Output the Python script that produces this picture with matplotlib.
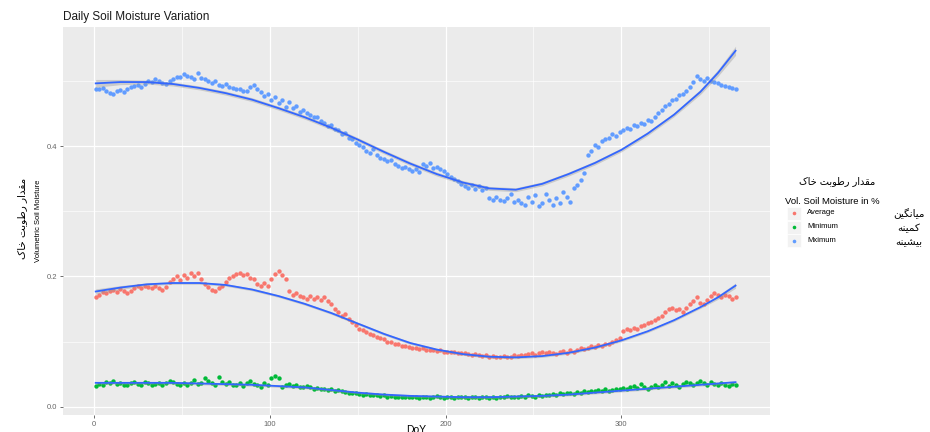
import numpy as np
import matplotlib.pyplot as plt
from matplotlib.patches import Rectangle
from matplotlib.lines import Line2D

plt.rcParams['font.family'] = ['Liberation Sans', 'DejaVu Sans']

# daily points (every second day)
days = np.arange(1, 366, 2)

max_vals = [
    0.488, 0.487, 0.489, 0.484, 0.482, 0.480, 0.484, 0.486, 0.483, 0.487,
    0.490, 0.492, 0.494, 0.491, 0.495, 0.500, 0.498, 0.502, 0.499, 0.496,
    0.495, 0.500, 0.503, 0.506, 0.505, 0.510, 0.508, 0.506, 0.503, 0.512,
    0.504, 0.502, 0.500, 0.497, 0.499, 0.494, 0.492, 0.495, 0.491, 0.489,
    0.488, 0.487, 0.485, 0.484, 0.490, 0.493, 0.488, 0.483, 0.476, 0.479,
    0.470, 0.475, 0.466, 0.471, 0.460, 0.468, 0.458, 0.462, 0.452, 0.455,
    0.450, 0.448, 0.444, 0.445, 0.438, 0.436, 0.430, 0.432, 0.426, 0.424,
    0.418, 0.420, 0.413, 0.410, 0.405, 0.401, 0.398, 0.393, 0.390, 0.395,
    0.386, 0.382, 0.380, 0.377, 0.378, 0.372, 0.370, 0.366, 0.368, 0.364,
    0.362, 0.365, 0.360, 0.372, 0.370, 0.374, 0.366, 0.368, 0.364, 0.361,
    0.357, 0.352, 0.350, 0.346, 0.342, 0.338, 0.336, 0.340, 0.334, 0.338,
    0.332, 0.336, 0.320, 0.318, 0.322, 0.317, 0.316, 0.320, 0.326, 0.314,
    0.318, 0.312, 0.310, 0.322, 0.314, 0.325, 0.308, 0.313, 0.327, 0.318,
    0.310, 0.320, 0.312, 0.330, 0.322, 0.314, 0.335, 0.340, 0.348, 0.358,
    0.386, 0.392, 0.402, 0.398, 0.408, 0.410, 0.412, 0.418, 0.415, 0.422,
    0.424, 0.428, 0.426, 0.432, 0.430, 0.436, 0.433, 0.440, 0.438, 0.445,
    0.450, 0.455, 0.462, 0.465, 0.470, 0.472, 0.478, 0.480, 0.484, 0.490,
    0.498, 0.508, 0.502, 0.500, 0.504, 0.500, 0.498, 0.496, 0.494, 0.492,
    0.490, 0.489, 0.488,
]

avg_vals = [
    0.168, 0.172, 0.176, 0.174, 0.178, 0.180, 0.176, 0.181, 0.178, 0.175,
    0.178, 0.182, 0.185, 0.183, 0.186, 0.184, 0.182, 0.186, 0.183, 0.180,
    0.184, 0.192, 0.196, 0.200, 0.195, 0.203, 0.198, 0.206, 0.200, 0.205,
    0.196, 0.188, 0.184, 0.180, 0.178, 0.182, 0.186, 0.192, 0.198, 0.200,
    0.204, 0.206, 0.202, 0.204, 0.198, 0.196, 0.188, 0.185, 0.190, 0.186,
    0.196, 0.204, 0.208, 0.202, 0.196, 0.178, 0.172, 0.175, 0.170, 0.168,
    0.165, 0.170, 0.166, 0.168, 0.164, 0.168, 0.162, 0.158, 0.150, 0.145,
    0.140, 0.142, 0.135, 0.130, 0.126, 0.120, 0.118, 0.115, 0.112, 0.110,
    0.108, 0.106, 0.104, 0.100, 0.099, 0.097, 0.096, 0.094, 0.093, 0.092,
    0.091, 0.090, 0.089, 0.090, 0.088, 0.087, 0.088, 0.086, 0.087, 0.085,
    0.085, 0.084, 0.085, 0.083, 0.082, 0.083, 0.081, 0.080, 0.081, 0.079,
    0.078, 0.079, 0.077, 0.078, 0.076, 0.077, 0.078, 0.076, 0.077, 0.079,
    0.078, 0.080, 0.079, 0.081, 0.083, 0.080, 0.082, 0.084, 0.082, 0.085,
    0.083, 0.081, 0.084, 0.086, 0.083, 0.087, 0.085, 0.088, 0.090, 0.089,
    0.091, 0.093, 0.092, 0.095, 0.094, 0.097, 0.096, 0.100, 0.102, 0.106,
    0.116, 0.120, 0.118, 0.121, 0.119, 0.124, 0.126, 0.129, 0.131, 0.134,
    0.137, 0.140, 0.146, 0.150, 0.152, 0.148, 0.150, 0.146, 0.152, 0.158,
    0.162, 0.168, 0.160, 0.158, 0.164, 0.170, 0.174, 0.172, 0.168, 0.172,
    0.170, 0.166, 0.168,
]

min_vals = [
    0.032, 0.035, 0.034, 0.038, 0.036, 0.040, 0.035, 0.037, 0.034, 0.033,
    0.036, 0.039, 0.035, 0.034, 0.038, 0.036, 0.033, 0.035, 0.037, 0.034,
    0.036, 0.040, 0.038, 0.035, 0.034, 0.037, 0.033, 0.036, 0.042, 0.035,
    0.037, 0.044, 0.040, 0.036, 0.034, 0.046, 0.038, 0.035, 0.039, 0.033,
    0.034, 0.036, 0.032, 0.037, 0.040, 0.035, 0.033, 0.031, 0.036, 0.034,
    0.045, 0.048, 0.044, 0.030, 0.033, 0.035, 0.032, 0.034, 0.031, 0.030,
    0.032, 0.030, 0.028, 0.029, 0.027, 0.028, 0.026, 0.027, 0.025, 0.026,
    0.024, 0.023, 0.022, 0.021, 0.022, 0.020, 0.019, 0.020, 0.018, 0.019,
    0.018, 0.017, 0.018, 0.016, 0.017, 0.016, 0.015, 0.016, 0.015, 0.016,
    0.015, 0.016, 0.014, 0.015, 0.016, 0.014, 0.015, 0.017, 0.015, 0.014,
    0.016, 0.015, 0.014, 0.015, 0.016, 0.015, 0.014, 0.016, 0.015, 0.014,
    0.015, 0.016, 0.014, 0.015, 0.014, 0.016, 0.015, 0.017, 0.016, 0.015,
    0.016, 0.017, 0.016, 0.018, 0.017, 0.016, 0.018, 0.017, 0.019, 0.018,
    0.020, 0.019, 0.021, 0.020, 0.022, 0.021, 0.020, 0.023, 0.022, 0.024,
    0.023, 0.025, 0.024, 0.026, 0.025, 0.027, 0.024, 0.026, 0.028, 0.027,
    0.029, 0.027, 0.030, 0.032, 0.029, 0.035, 0.031, 0.028, 0.030, 0.033,
    0.031, 0.034, 0.038, 0.032, 0.036, 0.034, 0.030, 0.035, 0.039, 0.036,
    0.034, 0.037, 0.040, 0.036, 0.034, 0.038, 0.035, 0.033, 0.036, 0.034,
    0.032, 0.035, 0.033,
]

# smoothed curves
smooth_days = [1, 15, 30, 45, 60, 75, 90, 105, 120, 135, 150, 165, 180,
               195, 210, 225, 240, 255, 270, 285, 300, 315, 330, 345, 355, 365]
max_smooth = [0.496, 0.498, 0.498, 0.495, 0.489, 0.481, 0.471, 0.458, 0.444,
              0.428, 0.410, 0.391, 0.373, 0.357, 0.344, 0.335, 0.333, 0.342,
              0.357, 0.374, 0.394, 0.419, 0.448, 0.483, 0.512, 0.546]
avg_smooth = [0.177, 0.183, 0.188, 0.190, 0.190, 0.187, 0.180, 0.170, 0.158,
              0.144, 0.128, 0.112, 0.098, 0.088, 0.081, 0.077, 0.076, 0.078,
              0.083, 0.091, 0.102, 0.116, 0.133, 0.153, 0.168, 0.186]
min_smooth = [0.037, 0.037, 0.037, 0.037, 0.036, 0.035, 0.034, 0.032, 0.030,
              0.026, 0.022, 0.019, 0.017, 0.016, 0.015, 0.015, 0.016, 0.017,
              0.019, 0.022, 0.025, 0.028, 0.031, 0.034, 0.036, 0.038]
max_band = [0.006, 0.004, 0.003, 0.003, 0.003, 0.003, 0.003, 0.003, 0.003,
            0.003, 0.003, 0.003, 0.003, 0.003, 0.003, 0.003, 0.003, 0.003,
            0.003, 0.003, 0.003, 0.003, 0.003, 0.004, 0.005, 0.007]
avg_band = [0.004, 0.003, 0.002, 0.002, 0.002, 0.002, 0.002, 0.002, 0.002,
            0.002, 0.002, 0.002, 0.002, 0.002, 0.002, 0.002, 0.002, 0.002,
            0.002, 0.002, 0.002, 0.002, 0.002, 0.002, 0.003, 0.004]
min_band = [0.002] * len(smooth_days)

series_names = ['Average', 'Minimum', 'Mximum']
series_fa = ['میانگین', 'کمینه', 'بیشینه']
colors = ['#F8766D', '#00BA38', '#619CFF']
title_fa = 'مقدار رطوبت خاک'

# --- tiny Persian shaper (matplotlib has no RTL / joining support) ---
DUAL = {
    'ب': (0xFE8F, 0xFE90, 0xFE91, 0xFE92), 'ت': (0xFE95, 0xFE96, 0xFE97, 0xFE98),
    'خ': (0xFEA5, 0xFEA6, 0xFEA7, 0xFEA8), 'ش': (0xFEB5, 0xFEB6, 0xFEB7, 0xFEB8),
    'ط': (0xFEC1, 0xFEC2, 0xFEC3, 0xFEC4), 'ق': (0xFED5, 0xFED6, 0xFED7, 0xFED8),
    'م': (0xFEE1, 0xFEE2, 0xFEE3, 0xFEE4), 'ن': (0xFEE5, 0xFEE6, 0xFEE7, 0xFEE8),
    'ه': (0xFEE9, 0xFEEA, 0xFEEB, 0xFEEC), 'ی': (0xFBFC, 0xFBFD, 0xFBFE, 0xFBFF),
    'ک': (0xFB8E, 0xFB8F, 0xFB90, 0xFB91), 'گ': (0xFB92, 0xFB93, 0xFB94, 0xFB95),
}
RIGHT = {'ا': (0xFE8D, 0xFE8E), 'د': (0xFEA9, 0xFEAA),
         'ر': (0xFEAD, 0xFEAE), 'و': (0xFEED, 0xFEEE)}


def shape(text):
    out = []
    for i, ch in enumerate(text):
        prev = text[i - 1] if i > 0 else ' '
        nxt = text[i + 1] if i < len(text) - 1 else ' '
        jp = prev in DUAL
        if ch in DUAL:
            iso, fin, ini, med = DUAL[ch]
            jn = nxt in DUAL or nxt in RIGHT
            if jp and jn:
                out.append(chr(med))
            elif jp:
                out.append(chr(fin))
            elif jn:
                out.append(chr(ini))
            else:
                out.append(chr(iso))
        elif ch in RIGHT:
            iso, fin = RIGHT[ch]
            out.append(chr(fin if jp else iso))
        else:
            out.append(ch)
    return ''.join(reversed(out))


W, H = 930, 432
fig = plt.figure(figsize=(W / 100, H / 100), dpi=100)
ax = fig.add_axes([63 / W, 1 - 415 / H, (770 - 63) / W, (415 - 27) / H])
ax.set_facecolor('#EBEBEB')
for s in ax.spines.values():
    s.set_visible(False)

ax.set_xlim(-17.6, 384.6)
ax.set_ylim(-0.0123, 0.5824)
ax.set_xticks([0, 100, 200, 300])
ax.set_xticks([50, 150, 250, 350], minor=True)
ax.set_yticks([0, 0.2, 0.4])
ax.set_yticklabels(['0.0', '0.2', '0.4'])
ax.set_yticks([0.1, 0.3, 0.5], minor=True)
ax.grid(which='major', color='white', lw=0.9)
ax.grid(which='minor', color='white', lw=0.45)
ax.set_axisbelow(True)
ax.tick_params(which='major', length=2.5, width=0.6, color='#555555',
               labelsize=5.5, labelcolor='#666666', pad=2)
ax.tick_params(which='minor', length=0)

for vals, c in zip([avg_vals, min_vals, max_vals], colors):
    ax.scatter(days, vals, s=10, color=c, lw=0, zorder=2)

for sm, band in [(avg_smooth, avg_band), (min_smooth, min_band), (max_smooth, max_band)]:
    sm = np.array(sm)
    band = np.array(band)
    ax.fill_between(smooth_days, sm - band, sm + band, color='#999999', alpha=0.4, lw=0, zorder=3)
    ax.plot(smooth_days, sm, color='#3366FF', lw=1.3, zorder=4, solid_joinstyle='round')

fig.text(63 / W, 1 - 17 / H, 'Daily Soil Moisture Variation', fontsize=8.5,
         ha='left', va='center', color='#1a1a1a')
fig.text(416 / W, 1 - 430 / H, 'DoY', fontsize=7.5, ha='center', va='center')
fig.text(38 / W, 1 - 221 / H, 'Volumetric Soil Moisture', rotation=90,
         fontsize=5.5, ha='center', va='center')
fig.text(22 / W, 1 - 218 / H, shape(title_fa), rotation=90, fontsize=7.5,
         family=['DejaVu Sans'], ha='center', va='center')

# legend
fig.text(837 / W, 1 - 181 / H, shape(title_fa), fontsize=7, family=['DejaVu Sans'],
         ha='center', va='center')
fig.text(785 / W, 1 - 201 / H, 'Vol. Soil Moisture in %', fontsize=6.8,
         ha='left', va='center')
key_y = [213, 227, 241]
for name, fa, c, ky in zip(series_names, series_fa, colors, key_y):
    fig.add_artist(Rectangle((787 / W, 1 - (ky + 6.5) / H), 14 / W, 13 / H,
                             transform=fig.transFigure, facecolor='#F2F2F2',
                             edgecolor='white', lw=0.5))
    fig.add_artist(Line2D([794 / W], [1 - ky / H], marker='o', ms=2.6, color=c,
                          mec='none', ls='none', transform=fig.transFigure))
    fig.text(807 / W, 1 - ky / H, name, fontsize=5.5, ha='left', va='center')
    fig.text(909 / W, 1 - (ky + 1) / H, shape(fa), fontsize=7.5,
             family=['DejaVu Sans'], ha='center', va='center')

fig.savefig('out.png', dpi=100)
